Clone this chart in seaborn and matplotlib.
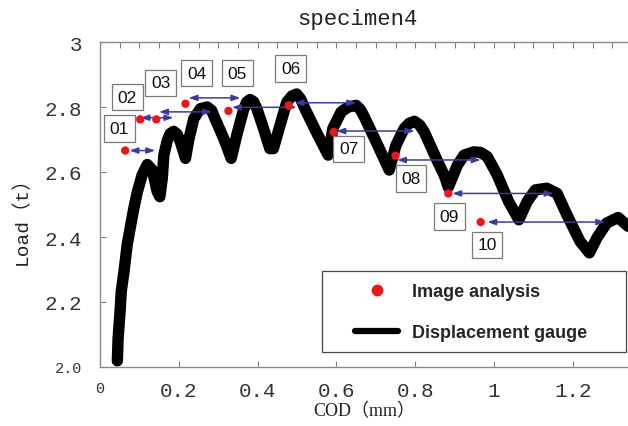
import matplotlib

matplotlib.use("Agg")

import matplotlib.pyplot as plt
import seaborn as sns
from matplotlib.lines import Line2D
from matplotlib.patches import Rectangle
from matplotlib.ticker import FixedLocator, MultipleLocator

# ---------------------------------------------------------------------------
# data
# ---------------------------------------------------------------------------
# displacement gauge trace: COD (mm) vs load (t)
cod_gauge = [
    0.044, 0.046, 0.051, 0.054, 0.061, 0.069, 0.078, 0.086, 0.095, 0.107,
    0.120, 0.133, 0.145, 0.152, 0.158, 0.162, 0.171, 0.178, 0.187, 0.196,
    0.204, 0.217, 0.225, 0.238, 0.255, 0.272, 0.283, 0.292, 0.314, 0.333,
    0.347, 0.364, 0.372, 0.381, 0.390, 0.398, 0.415, 0.431, 0.440, 0.457,
    0.474, 0.487, 0.499, 0.509, 0.520, 0.549, 0.579, 0.591, 0.612, 0.630,
    0.650, 0.661, 0.671, 0.705, 0.734, 0.751, 0.772, 0.785, 0.798, 0.811,
    0.823, 0.857, 0.875, 0.884, 0.907, 0.924, 0.949, 0.966, 0.983, 1.008,
    1.037, 1.063, 1.084, 1.105, 1.134, 1.160, 1.185, 1.218, 1.242, 1.261,
    1.286, 1.315, 1.340,
]
load_gauge = [
    2.019, 2.090, 2.172, 2.233, 2.295, 2.376, 2.437, 2.489, 2.540, 2.591,
    2.623, 2.606, 2.540, 2.524, 2.580, 2.652, 2.698, 2.718, 2.725, 2.716,
    2.693, 2.642, 2.698, 2.764, 2.795, 2.800, 2.790, 2.764, 2.703, 2.642,
    2.713, 2.790, 2.815, 2.823, 2.816, 2.795, 2.734, 2.672, 2.672, 2.744,
    2.815, 2.834, 2.840, 2.825, 2.795, 2.723, 2.652, 2.734, 2.785, 2.800,
    2.805, 2.792, 2.769, 2.682, 2.606, 2.682, 2.734, 2.750, 2.756, 2.745,
    2.723, 2.632, 2.586, 2.553, 2.621, 2.652, 2.662, 2.660, 2.647, 2.591,
    2.509, 2.453, 2.509, 2.545, 2.550, 2.534, 2.468, 2.387, 2.351, 2.397,
    2.443, 2.460, 2.433,
]

# image analysis points 01..10
img_labels = ["01", "02", "03", "04", "05", "06", "07", "08", "09", "10"]
cod_img = [0.064, 0.102, 0.143, 0.217, 0.326, 0.479, 0.593, 0.750, 0.884, 0.966]
load_img = [2.666, 2.762, 2.762, 2.810, 2.788, 2.805, 2.723, 2.650, 2.534, 2.446]

# double arrows (COD span) and the load level they sit at
arrow_from = [0.075, 0.103, 0.150, 0.225, 0.335, 0.494, 0.600, 0.754, 0.894, 0.983]
arrow_to = [0.140, 0.186, 0.284, 0.356, 0.499, 0.650, 0.798, 0.966, 1.151, 1.282]
arrow_load = [2.666, 2.767, 2.785, 2.828, 2.799, 2.813, 2.726, 2.637, 2.534, 2.446]

# where the number boxes are written
box_cod = [0.049, 0.069, 0.154, 0.245, 0.349, 0.484, 0.631, 0.789, 0.886, 0.982]
box_load = [2.734, 2.830, 2.874, 2.904, 2.904, 2.919, 2.671, 2.580, 2.463, 2.376]

x_ticks = [0, 0.2, 0.4, 0.6, 0.8, 1.0, 1.2]
x_ticklabels = ["0", "0.2", "0.4", "0.6", "0.8", "1", "1.2"]
y_ticks = [2.0, 2.2, 2.4, 2.6, 2.8, 3.0]
y_ticklabels = ["2.0", "2.2", "2.4", "2.6", "2.8", "3"]

# ---------------------------------------------------------------------------
sns.set_theme(style="white")
mono = ["Liberation Mono", "Noto Sans CJK JP", "DejaVu Sans"]
serif = ["Liberation Serif", "Noto Sans CJK JP", "DejaVu Sans"]
plt.rcParams["font.family"] = ["Liberation Sans", "DejaVu Sans"]

W, H = 628, 427
fig = plt.figure(figsize=(W / 100, H / 100), dpi=100)
ax = fig.add_axes([100 / W, (H - 368) / H, (W - 100) / W, 325 / H])

sns.lineplot(
    x=cod_gauge, y=load_gauge, sort=False, estimator=None, color="black",
    linewidth=8.2, solid_joinstyle="round", solid_capstyle="round", ax=ax,
    zorder=2,
)
sns.scatterplot(
    x=cod_img, y=load_img, color="#f01414", s=36, edgecolor="none",
    ax=ax, zorder=4, legend=False,
)

for x0, x1, y in zip(arrow_from, arrow_to, arrow_load):
    ax.annotate(
        "", xy=(x1, y), xytext=(x0, y),
        arrowprops=dict(
            arrowstyle="<|-|>,head_length=0.5,head_width=0.18",
            color="#3a3aa6", lw=1.1, shrinkA=0, shrinkB=0, mutation_scale=10,
        ),
        zorder=3,
    )

for lab, x, y in zip(img_labels, box_cod, box_load):
    ax.text(
        x, y, lab, ha="center", va="center", fontsize=12.5, color="#111111",
        bbox=dict(boxstyle="square,pad=0.33", fc="white", ec="#7a7a7a", lw=0.9),
        zorder=5,
    )

ax.set_xlim(0.006, 1.34)
ax.set_ylim(2.0, 3.0)

ax.xaxis.set_major_locator(FixedLocator(x_ticks))
ax.xaxis.set_minor_locator(MultipleLocator(0.05))
ax.set_xticks(x_ticks, x_ticklabels)
ax.set_yticks(y_ticks, y_ticklabels)

ax.tick_params(axis="x", which="major", direction="in", length=4, width=0.8,
               color="#808080", top=True, bottom=True, pad=10, labelsize=15,
               labelcolor="#333333")
ax.tick_params(axis="x", which="minor", direction="in", length=4, width=0.8,
               color="#808080", top=True, bottom=False)
ax.tick_params(axis="y", which="major", direction="in", length=4, width=0.8,
               color="#808080", left=True, right=False, pad=13, labelsize=15,
               labelcolor="#333333")
for t in ax.get_xticklabels() + ax.get_yticklabels():
    t.set_family(mono)
ax.get_xticklabels()[0].set_fontsize(11)
ax.get_yticklabels()[0].set_fontsize(11)

for side in ["left", "bottom", "top"]:
    ax.spines[side].set_color("#8a8a8a")
    ax.spines[side].set_linewidth(1.0)
ax.spines["right"].set_visible(False)

ax.set_xlabel("COD（mm）", fontsize=13, family=serif, color="#222222")
ax.xaxis.set_label_coords(0.5, -0.133)
ax.xaxis.label.set_va("center")
ax.set_ylabel("Load（t）", fontsize=14, family=mono, color="#222222")
ax.yaxis.set_label_coords(-0.148, 0.468)
ax.yaxis.label.set_va("center")

fig.text(357 / W, 1 - 20 / H, "specimen4", ha="center", va="center",
         fontsize=16, family=mono, color="#222222")

# legend: frame drawn separately so the padding matches the reference
ax.add_patch(Rectangle(
    (322 / W, 1 - 353 / H), 304 / W, 81 / H, transform=fig.transFigure,
    fc="white", ec="#444444", lw=0.9, zorder=5, clip_on=False,
))
handles = [
    Line2D([], [], ls="none", marker="o", ms=8.5, color="#f01414", mec="none"),
    Line2D([], [], color="black", lw=4.5),
]
leg = ax.legend(
    handles, ["Image analysis", "Displacement gauge"],
    loc="upper left", bbox_to_anchor=(355 / W, 1 - 284 / H),
    bbox_transform=fig.transFigure, frameon=False, borderpad=0,
    borderaxespad=0, handlelength=2.4, handletextpad=0.75, labelspacing=1.33,
    prop={"family": "Liberation Sans", "weight": "bold", "size": 13},
)
leg.set_zorder(6)

fig.savefig("out.png", dpi=100)
